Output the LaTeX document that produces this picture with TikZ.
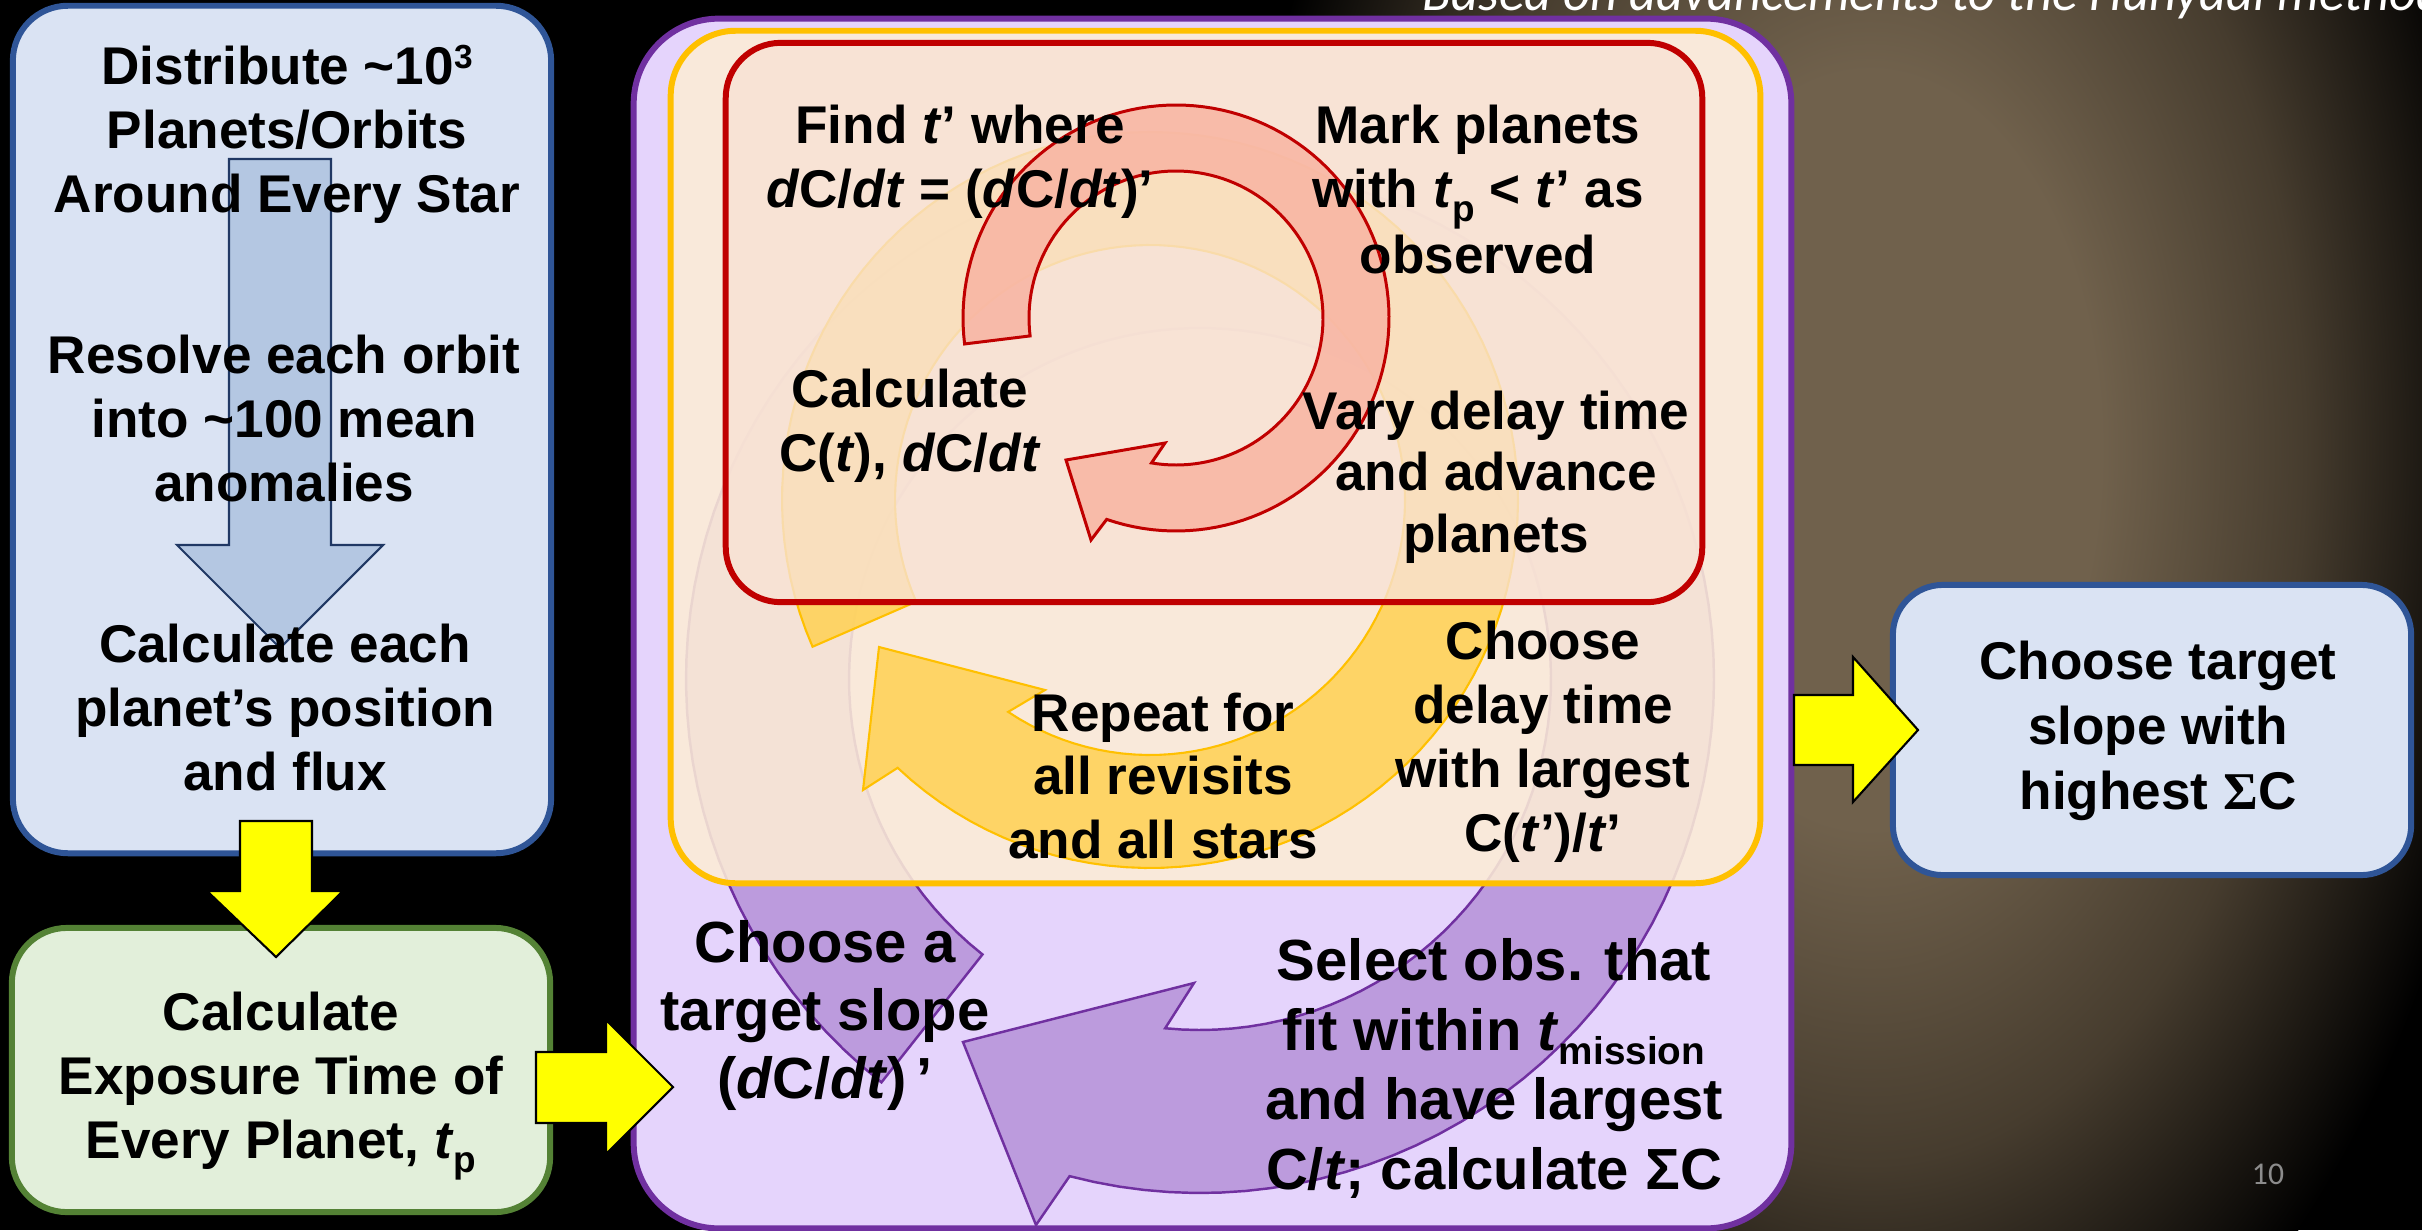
\documentclass[tikz,border=0pt]{standalone}
\usepackage{fontspec}
\setmainfont{Liberation Sans}
\newfontfamily\calib{Carlito}
\newfontfamily\serifsym{Liberation Serif}
\usepackage{graphicx}
\definecolor{bbfill}{RGB}{218,227,243}
\definecolor{bbdraw}{RGB}{47,85,151}
\definecolor{gbfill}{RGB}{226,239,218}
\definecolor{gbdraw}{RGB}{84,130,53}
\definecolor{pfill}{RGB}{229,212,252}
\definecolor{pdraw}{RGB}{112,48,160}
\definecolor{ofill}{RGB}{252,236,214}
\definecolor{odraw}{RGB}{255,192,0}
\definecolor{rfill}{RGB}{248,226,212}
\definecolor{rdraw}{RGB}{192,0,0}
\definecolor{ringP}{RGB}{188,155,221}
\definecolor{ringY}{RGB}{255,210,90}
\definecolor{ringR}{RGB}{248,180,162}
\definecolor{arrB}{RGB}{180,199,226}
\definecolor{arrBd}{RGB}{32,56,100}
\definecolor{glow}{RGB}{112,97,76}
\definecolor{glowmid}{RGB}{70,60,46}
\definecolor{pagenum}{RGB}{140,140,140}
\definecolor{yel}{RGB}{255,255,0}
\pgfdeclareradialshading{neb}{\pgfpoint{0bp}{0bp}}{color(0bp)=(glow);color(9bp)=(glow);color(17bp)=(glowmid);color(25bp)=(black);color(50bp)=(black)}
\newcommand\blk[3]{{\fontsize{#1}{#2}\selectfont\begin{tabular}[t]{@{}c@{}}#3\end{tabular}}}
\newcommand\lo[2][10.5pt]{\raisebox{-4pt}{\fontsize{#1}{#1}\selectfont #2}}
\newcommand\hi[1]{\raisebox{4.5pt}{\fontsize{9.5pt}{9.5pt}\selectfont #1}}
\newcommand\ii[1]{\textit{#1}}
\begin{document}
\begin{tikzpicture}[x=0.01cm,y=-0.01cm,
  txt/.style={anchor=base,inner sep=0pt,outer sep=0pt,font=\bfseries},
  panel/.style={inner sep=0pt,outer sep=0pt,line width=1.7pt},
  yarrow/.style={fill=yel,draw=black,line width=0.6pt,line join=miter},
]
\useasboundingbox (0,0) rectangle (2422,1230);
\fill[black] (0,0) rectangle (2422,1230);
% nebula glow
\shade[shading=neb] (1870,450) ellipse [x radius=640, y radius=1050];
% heading (cut at top)
\node[anchor=base west,inner sep=0pt,text=white,font={\calib\itshape\fontsize{15pt}{18pt}\selectfont}] (head) at (1422,11) {Based on advancements to the Hunyadi method};
% left column
\node[panel, draw=bbdraw, fill=bbfill, rounded corners=0.55cm, minimum width=5.38cm, minimum height=8.47cm] (boxA) at (282,429.5) {};
\draw[fill=arrB, draw=arrBd, line width=0.6pt] (229,159) -- (331,159) -- (331,545) -- (383,545) -- (280,648) -- (177,545) -- (229,545) -- cycle;
\node[panel, draw=gbdraw, fill=gbfill, rounded corners=0.55cm, minimum width=5.38cm, minimum height=2.84cm] (boxB) at (281,1070) {};
% purple panel
\node[panel, draw=pdraw, fill=pfill, rounded corners=0.85cm, minimum width=11.57cm, minimum height=12.09cm] (boxP) at (1212.5,623.5) {};
\draw[draw=pdraw, line width=0.7pt, fill=ringP]
  plot[domain=128.3:464.7, samples=120] ({1200+514*cos(\x)},{679+514*sin(\x)})
  -- (1036,1225) -- (963,1042) -- (1194,983)
  -- plot[domain=455.7:128.3, samples=120] ({1200+351*cos(\x)},{679+351*sin(\x)}) -- cycle;
% orange panel
\node[panel, draw=odraw, fill=ofill, fill opacity=0.88, rounded corners=0.65cm, minimum width=10.89cm, minimum height=8.52cm] (boxO) at (1215.5,457) {};
\draw[draw=odraw, line width=0.6pt, fill=ringY, fill opacity=0.9]
  plot[domain=156.5:493.3, samples=120] ({1150+368*cos(\x)},{500+368*sin(\x)})
  -- (863,790) -- (879,647) -- (1045,690)
  -- plot[domain=483.8:156.5, samples=120] ({1150+255*cos(\x)},{500+255*sin(\x)}) -- cycle;
% red panel
\node[panel, draw=rdraw, fill=rfill, fill opacity=0.8, rounded corners=0.55cm, minimum width=9.76cm, minimum height=5.59cm] (boxR) at (1214,322.5) {};
\draw[draw=rdraw, line width=0.85pt, fill=ringR, fill opacity=0.85]
  plot[domain=173:469, samples=120] ({1176+213*cos(\x)},{318+213*sin(\x)})
  -- (1091,540) -- (1066,460) -- (1165,443)
  -- plot[domain=459.6:173, samples=120] ({1176+147*cos(\x)},{318+147*sin(\x)}) -- cycle;
% right box
\node[panel, draw=bbdraw, fill=bbfill, rounded corners=0.5cm, minimum width=5.18cm, minimum height=2.90cm] (boxS) at (2152,730) {};
% yellow block arrows
\draw[yarrow] (240,821) -- (312,821) -- (312,891) -- (343,891) -- (276,957) -- (207,891) -- (240,891) -- cycle;
\draw[yarrow] (536,1052) -- (606,1052) -- (606,1020) -- (673,1087) -- (606,1154) -- (606,1123) -- (536,1123) -- cycle;
\draw[yarrow] (1794,695) -- (1853,695) -- (1853,657) -- (1918,730) -- (1853,802) -- (1853,765) -- (1794,765) -- cycle;
% texts
\node[txt] (tA1) at (287,84) {\blk{15.1pt}{18.2pt}{Distribute \textasciitilde10\hi{3}\\Planets/Orbits\\Around Every Star}};
\node[txt] (tA2) at (284,373) {\blk{15.1pt}{18.2pt}{Resolve each orbit\\into \textasciitilde100 mean\\anomalies}};
\node[txt] (tA3) at (285,662) {\blk{15.1pt}{18.2pt}{Calculate each\\planet’s position\\and flux}};
\node[txt] (tB) at (281,1030) {\blk{15.1pt}{18.2pt}{Calculate\\Exposure Time of\\Every Planet, \ii{t}\lo{p}}};
\node[txt] (tR1) at (960,143) {\blk{15.1pt}{18.2pt}{Find \ii{t}’ where\\\ii{d}C/\ii{dt} = (\ii{d}C/\ii{dt})’}};
\node[txt] (tR2) at (1478,143) {\blk{15.1pt}{18.2pt}{Mark planets\\with \ii{t}\lo{p} < \ii{t}’ as\\observed}};
\node[txt] (tR3) at (910,407) {\blk{15.1pt}{18.2pt}{Calculate\\C(\ii{t}), \ii{d}C/\ii{dt}}};
\node[txt] (tR4) at (1496,429) {\blk{15.1pt}{17.6pt}{Vary delay time\\and advance\\planets}};
\node[txt] (tO1) at (1163,731) {\blk{15.1pt}{18.1pt}{Repeat for\\all revisits\\and all stars}};
\node[txt] (tO2) at (1543,659) {\blk{15.1pt}{18.2pt}{Choose\\delay time\\with largest\\C(\ii{t}’)/\ii{t}’}};
\node[txt] (tP1) at (825,962) {\blk{16.5pt}{19.4pt}{Choose a\\target slope\\(\ii{d}C/\ii{dt})\,’}};
\node[txt] (tP2) at (1494,980) {\blk{16.5pt}{19.9pt}{Select obs. that\\fit within \ii{t}\lo[11pt]{mission}\\and have largest\\C/\ii{t}; calculate ΣC}};
\node[txt] (tS) at (2158,679) {\blk{15.1pt}{18.6pt}{Choose target\\slope with\\highest {\serifsym Σ}C}};
\node[anchor=base,inner sep=0pt,text=pagenum,font={\calib\fontsize{9pt}{10pt}\selectfont}] (pnum) at (2268,1184) {10};
\end{tikzpicture}
\end{document}
